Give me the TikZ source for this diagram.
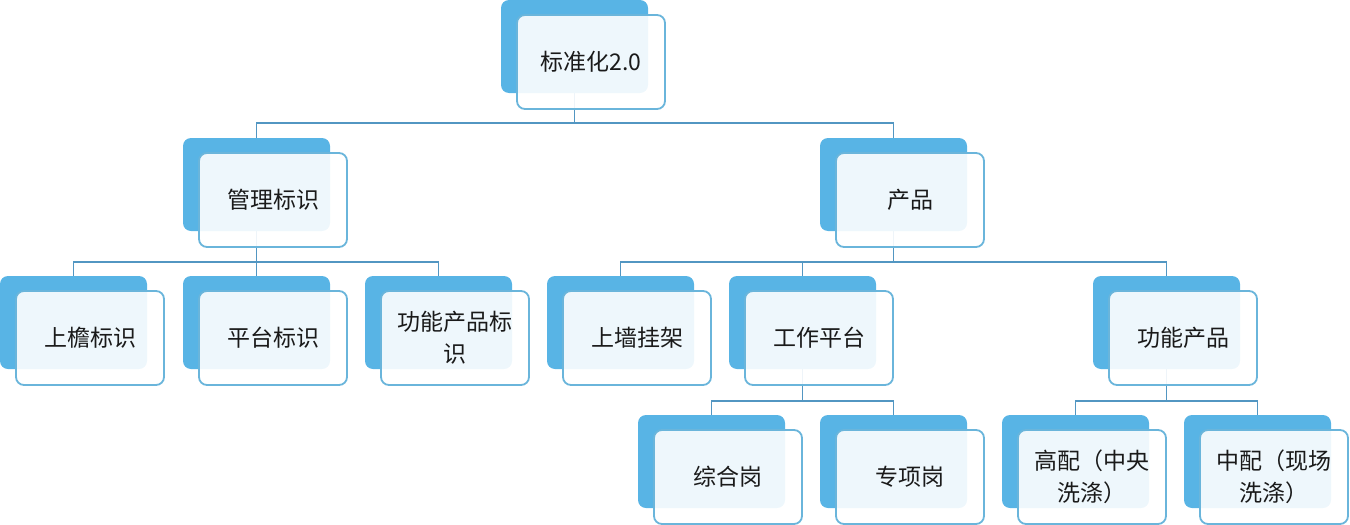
\documentclass[tikz,border=0pt]{standalone}
\usepackage{fontspec}
\newfontfamily\cjk{Noto Sans CJK SC}
\definecolor{backblue}{HTML}{58B4E5}
\definecolor{edgeblue}{HTML}{6AB5DB}
\definecolor{linkblue}{HTML}{5296C2}
\definecolor{inktext}{HTML}{1A1A1A}
\pgfdeclarelayer{bg}
\pgfsetlayers{bg,main}
\tikzset{
  backbox/.style={fill=backblue, rounded corners=8pt, minimum width=147pt, minimum height=93pt, anchor=north west, inner sep=0pt, outer sep=0pt},
  frontbox/.style={draw=edgeblue, line width=1.8pt, fill=white, fill opacity=0.9, text opacity=1, rounded corners=8pt, minimum width=148pt, minimum height=94pt, anchor=north west, inner sep=0pt, outer sep=0pt, align=center, text=inktext, font=\cjk\fontsize{23}{32}\selectfont},
  link/.style={draw=linkblue, line width=1.8pt}
}
\newcommand{\duo}[4]{%
  \node[backbox] (#1-b) at (#2,#3) {};
  \node[frontbox] (#1) at ({#2+16},{#3+15}) {#4};
}
\begin{document}
\begin{tikzpicture}[x=1pt,y=-1pt]
\useasboundingbox (0,0) rectangle (1350,525);
\coordinate (m1) at (0,123);
\coordinate (m2) at (0,262);
\coordinate (m3) at (0,401);

\duo{root}{501}{0}{标准化2.0}
\duo{mgmt}{183}{138}{管理标识}
\duo{prod}{820}{138}{产品}
\duo{eaves}{0}{276}{上檐标识}
\duo{plat}{183}{276}{平台标识}
\duo{funcid}{365}{276}{功能产品标\\识}
\duo{wall}{547}{276}{上墙挂架}
\duo{work}{729}{276}{工作平台}
\duo{func}{1093}{276}{功能产品}
\duo{comp}{638}{415}{综合岗}
\duo{spec}{820}{415}{专项岗}
\duo{high}{1002}{415}{高配（中央\\洗涤）}
\duo{mid}{1184}{415}{中配（现场\\洗涤）}

\begin{pgfonlayer}{bg}
\foreach \p/\c/\m in {root/mgmt/m1, root/prod/m1,
  mgmt/eaves/m2, mgmt/plat/m2, mgmt/funcid/m2,
  prod/wall/m2, prod/work/m2, prod/func/m2,
  work/comp/m3, work/spec/m3, func/high/m3, func/mid/m3}
  \draw[link] (\p-b.center) -- (\p-b.center |- \m) -| (\c-b.center);
\end{pgfonlayer}
\end{tikzpicture}
\end{document}
